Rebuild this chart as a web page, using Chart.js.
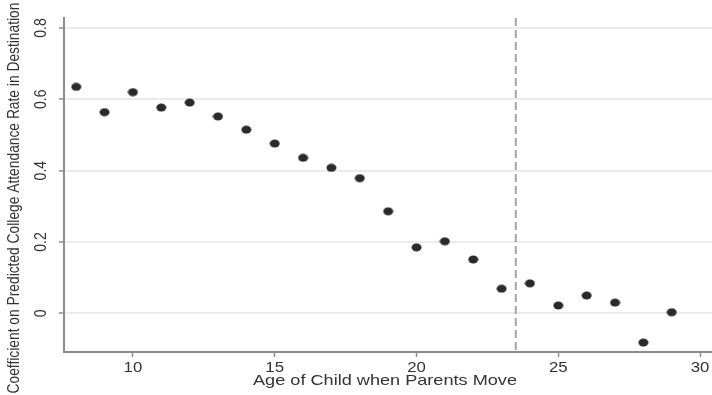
<!DOCTYPE html>
<html>
<head>
<meta charset="utf-8">
<script src="https://cdn.jsdelivr.net/npm/chart.js@4"></script>
<style>
  html, body { margin: 0; padding: 0; background: #fff; }
  #wrap { width: 712px; height: 395px; position: relative; }
</style>
</head>
<body>
<div id="wrap"><canvas id="myChart"></canvas></div>
<script>
// umur anak saat orang tua pindah, dan koefisiennya
const ages = [8, 9, 10, 11, 12, 13, 14, 15, 16, 17, 18, 19, 20, 21, 22, 23, 24, 25, 26, 27, 28, 29];
const coefs = [0.635, 0.564, 0.620, 0.577, 0.591, 0.552, 0.515, 0.476, 0.436, 0.408, 0.379, 0.286,
               0.185, 0.202, 0.151, 0.069, 0.084, 0.022, 0.050, 0.030, -0.082, 0.003];
const xTicks = [10, 15, 20, 25, 30];
const yTicks = [0, 0.2, 0.4, 0.6, 0.8];
const cutoffAge = 23.5;

const axisColor = '#8c8c8c';
const textColor = '#333';
const fontFam = '"Liberation Sans", Arial, sans-serif';

// titik agak lonjong (lebih lebar dari tinggi)
const dot = document.createElement('canvas');
dot.width = 11;
dot.height = 9;
const dctx = dot.getContext('2d');
dctx.fillStyle = '#2a2a2a';
dctx.beginPath();
dctx.ellipse(5.5, 4.5, 5, 4, 0, 0, Math.PI * 2);
dctx.fill();

// teks yang digambar sendiri (agak melebar ke samping)
function wideText(c, text, x, y, size, sx) {
  c.save();
  c.translate(x, y);
  c.scale(sx, 1);
  c.font = size + 'px ' + fontFam;
  c.fillText(text, 0, 0);
  c.restore();
}

const extras = {
  id: 'extras',
  afterDatasetsDraw(chart) {
    const { ctx, chartArea, scales } = chart;
    const x = scales.x.getPixelForValue(cutoffAge);
    ctx.save();
    ctx.strokeStyle = '#a3a3a3';
    ctx.lineWidth = 2;
    ctx.setLineDash([8, 4]);
    ctx.beginPath();
    ctx.moveTo(x, chartArea.top);
    ctx.lineTo(x, chartArea.bottom);
    ctx.stroke();
    ctx.restore();
  },
  afterDraw(chart) {
    const { ctx, chartArea, scales } = chart;
    ctx.save();
    ctx.fillStyle = textColor;
    ctx.textAlign = 'center';
    ctx.textBaseline = 'middle';

    // label x
    xTicks.forEach(v => {
      wideText(ctx, String(v), scales.x.getPixelForValue(v), 368, 14, 1.2);
    });
    wideText(ctx, 'Age of Child when Parents Move', (chartArea.left + chartArea.right) / 2 - 3, 381, 14.5, 1.25);

    // label y diputar
    ctx.font = '14px ' + fontFam;
    yTicks.forEach(v => {
      const y = scales.y.getPixelForValue(v);
      ctx.save();
      ctx.translate(41, y);
      ctx.rotate(-Math.PI / 2);
      ctx.scale(1, 1.2);
      ctx.fillText(String(v), 0, 0);
      ctx.restore();
    });

    // judul sumbu y
    ctx.translate(14, 198);
    ctx.rotate(-Math.PI / 2);
    ctx.scale(1, 1.2);
    ctx.font = '13.8px ' + fontFam;
    ctx.fillText('Coefficient on Predicted College Attendance Rate in Destination', 0, 0);
    ctx.restore();
  }
};

const ctx = document.getElementById('myChart').getContext('2d');

new Chart(ctx, {
  type: 'scatter',
  data: {
    datasets: [{
      data: ages.map((a, i) => ({ x: a, y: coefs[i] })),
      pointStyle: dot,
      pointRadius: 5,
      pointHoverRadius: 5
    }]
  },
  options: {
    responsive: true,
    maintainAspectRatio: false,
    animation: false,
    layout: { autoPadding: false, padding: { top: 18, right: 0, left: 0, bottom: 0 } },
    plugins: {
      legend: { display: false },
      tooltip: { enabled: false }
    },
    scales: {
      x: {
        type: 'linear',
        min: 7.57,
        max: 30.42,
        afterBuildTicks: s => { s.ticks = xTicks.map(v => ({ value: v })); },
        afterFit: s => { s.height = 43; s.paddingLeft = 0; s.paddingRight = 0; },
        grid: { drawOnChartArea: false, drawTicks: true, tickLength: 5, tickColor: axisColor, tickWidth: 1.5 },
        border: { color: axisColor, width: 2 },
        ticks: { display: false }
      },
      y: {
        min: -0.1085,
        max: 0.828,
        afterBuildTicks: s => { s.ticks = yTicks.map(v => ({ value: v })); },
        afterFit: s => { s.width = 64; s.paddingTop = 0; s.paddingBottom = 0; },
        grid: { color: '#ececec', lineWidth: 2, drawTicks: true, tickLength: 5, tickColor: axisColor, tickWidth: 1.5 },
        border: { color: axisColor, width: 2 },
        ticks: { display: false }
      }
    }
  },
  plugins: [extras]
});
</script>
</body>
</html>
